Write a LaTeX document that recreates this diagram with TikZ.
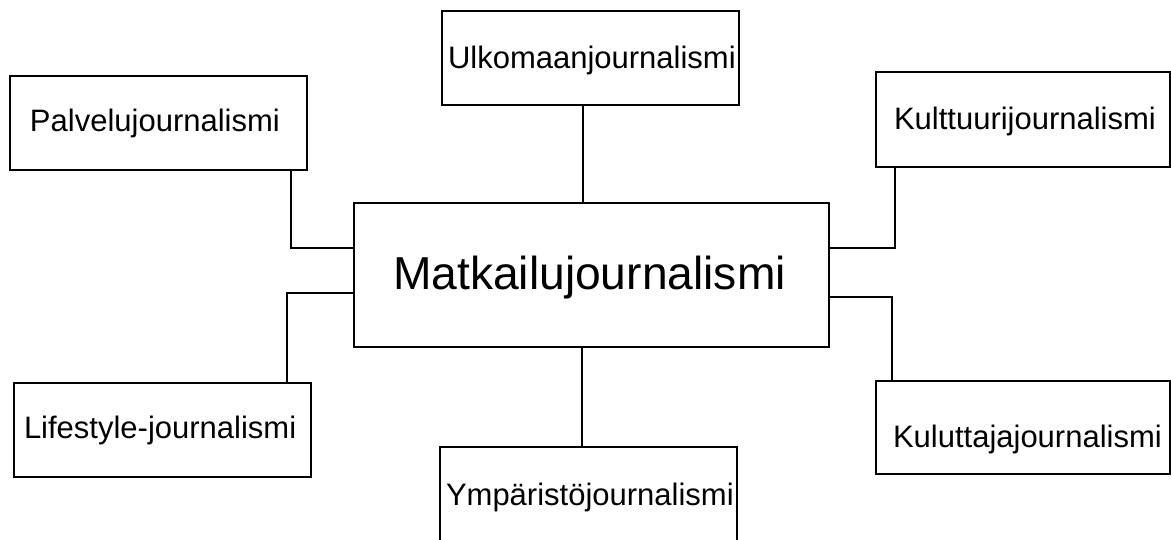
\documentclass[tikz,border=0pt]{standalone}
\usepackage{fontspec}
\setmainfont{Liberation Sans}
\tikzset{
  box/.style={draw=black, line width=1.8pt, rectangle, inner sep=0pt, outer sep=0pt},
  txt/.style={inner sep=0pt, outer sep=0pt, anchor=base west, font=\fontsize{31}{37}\selectfont},
  bigtxt/.style={inner sep=0pt, outer sep=0pt, anchor=base west, font=\fontsize{46.2}{55}\selectfont},
  conn/.style={draw=black, line width=1.8pt}
}
\begin{document}
\begin{tikzpicture}[x=1pt,y=-1pt]
\useasboundingbox (0,0) rectangle (1171,539);
% boxes
\node[box, minimum width=475pt, minimum height=144pt] (cen) at (591.5,275) {};
\node[box, minimum width=297pt, minimum height=94pt] (ulk) at (590.5,58) {};
\node[box, minimum width=297pt, minimum height=94pt] (pal) at (158.5,123) {};
\node[box, minimum width=294pt, minimum height=95pt] (kul) at (1023,119.5) {};
\node[box, minimum width=297pt, minimum height=94pt] (lif) at (162.5,430) {};
\node[box, minimum width=294pt, minimum height=93pt] (kulu) at (1023,427.5) {};
\node[box, minimum width=297pt, minimum height=94pt] (ymp) at (588.5,494) {};
% texts
\node[bigtxt] (cenT) at (393,289) {Matkailujournalismi};
\node[txt] (ulkT) at (448,68) {Ulkomaanjournalismi};
\node[txt] (palT) at (30,131) {Palvelujournalismi};
\node[txt] (kulT) at (894,129) {Kulttuurijournalismi};
\node[txt] (lifT) at (24,438) {Lifestyle-journalismi};
\node[txt] (kuluT) at (893,447) {Kuluttajajournalismi};
\node[txt] (ympT) at (446,505) {Ympäristöjournalismi};
% bend coordinates
\coordinate (cu) at (583,0);
\coordinate (cy) at (582,0);
\coordinate (cp) at (291,248);
\coordinate (ck) at (895,248);
\coordinate (cl) at (287,293);
\coordinate (ckk) at (892,297);
% connectors
\draw[conn] (ulk.south -| cu) -- (cen.north -| cu);
\draw[conn] (cen.south -| cy) -- (ymp.north -| cy);
\draw[conn] (pal.south -| cp) |- (cen.west |- cp);
\draw[conn] (kul.south -| ck) |- (cen.east |- ck);
\draw[conn] (lif.north -| cl) |- (cen.west |- cl);
\draw[conn] (kulu.north -| ckk) |- (cen.east |- ckk);
\end{tikzpicture}
\end{document}
